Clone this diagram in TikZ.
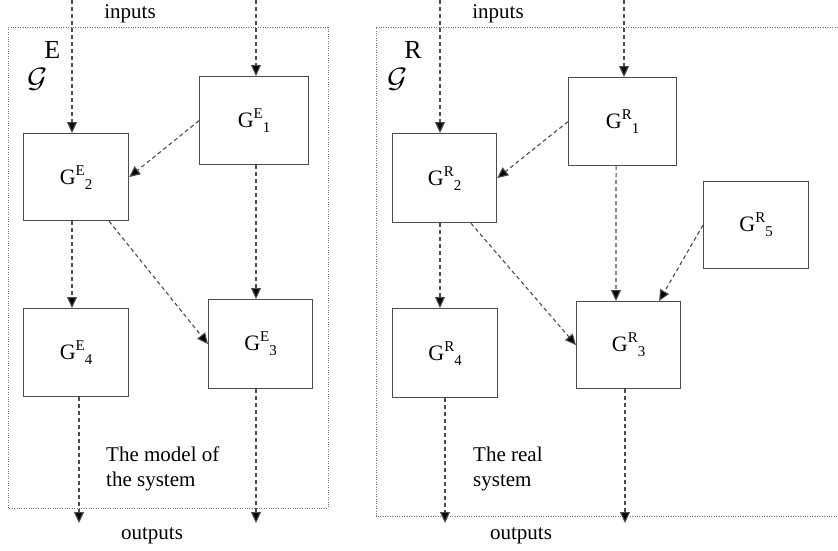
\documentclass[tikz,border=0pt]{standalone}
\usepackage{fontspec}
\usepackage{graphicx}
\setmainfont{Liberation Serif}
\usetikzlibrary{arrows.meta,calc}

% block label: G with a raised system letter and a lowered index
\newcommand\glab[2]{G\raisebox{9pt}{\fontsize{15}{15}\selectfont #1}\raisebox{-5pt}{\fontsize{15}{15}\selectfont #2}}
% calligraphic system symbol with its superscript letter
\newcommand\sysname[1]{\scalebox{3.1}[2.8]{$\mathcal{G}$}\kern-3pt\raisebox{29pt}{\fontsize{26}{26}\selectfont #1}}

\tikzset{
  blk/.style={draw=black!70, line width=1.2pt, inner sep=0pt, anchor=north west,
              font=\fontsize{22}{24}\selectfont},
  flow/.style={draw=black!70, line width=1.1pt, dash pattern=on 4pt off 3pt,
               -{Triangle[length=11pt,width=10pt,fill=black]}},
  frame/.style={draw=black!55, line width=1pt, dash pattern=on 1pt off 1.4pt},
  lbl/.style={inner sep=0pt, font=\fontsize{21}{25}\selectfont},
  note/.style={inner sep=0pt, anchor=north west, align=left, font=\fontsize{21}{25}\selectfont}
}

\begin{document}
\begin{tikzpicture}[x=1pt,y=-1pt]
\useasboundingbox (0,0) rectangle (838,550);

% ---------- model of the system ----------
\draw[frame] (8,27) rectangle (328,508);
\node[inner sep=0pt, anchor=base west] (symE) at (27,87) {\sysname{E}};
\node[lbl] (inE) at (130,14) {inputs};
\node[lbl] (outE) at (152,536) {outputs};
\node[note] (txtE) at (106,447) {The model of\\the system};

\node[blk, minimum width=109pt, minimum height=88pt] (e1) at (199,76) {\glab{E}{1}};
\node[blk, minimum width=105pt, minimum height=87pt] (e2) at (23,133) {\glab{E}{2}};
\node[blk, minimum width=104pt, minimum height=89pt] (e3) at (208,299) {\glab{E}{3}};
\node[blk, minimum width=105pt, minimum height=88pt] (e4) at (23,308) {\glab{E}{4}};

\coordinate (inE1) at (72,0);
\coordinate (inE2) at (256,0);
\coordinate (outE1) at (79,523);
\coordinate (outE2) at (256,523);

\draw[flow] (inE1) -- (inE1 |- e2.north);
\draw[flow] (inE2) -- (inE2 |- e1.north);
\draw[flow] (e1.west) -- (e2.east);
\draw[flow] (inE1 |- e2.south) -- (inE1 |- e4.north);
\draw[flow] ($(e2.south west)!0.81!(e2.south east)$) -- (e3.west);
\draw[flow] (inE2 |- e1.south) -- (inE2 |- e3.north);
\draw[flow] (outE1 |- e4.south) -- (outE1);
\draw[flow] (outE2 |- e3.south) -- (outE2);

% ---------- the real system ----------
\draw[frame] (838,27) -- (376,27) -- (376,516) -- (838,516);
\node[inner sep=0pt, anchor=base west] (symR) at (387,87) {\sysname{R}};
\node[lbl] (inR) at (498,14) {inputs};
\node[lbl] (outR) at (521,536) {outputs};
\node[note] (txtR) at (473,447) {The real\\system};

\node[blk, minimum width=108pt, minimum height=88pt] (r1) at (568,77) {\glab{R}{1}};
\node[blk, minimum width=104pt, minimum height=89pt] (r2) at (392,133) {\glab{R}{2}};
\node[blk, minimum width=104pt, minimum height=87pt] (r3) at (576,301) {\glab{R}{3}};
\node[blk, minimum width=105pt, minimum height=89pt] (r4) at (392,308) {\glab{R}{4}};
\node[blk, minimum width=105pt, minimum height=87pt] (r5) at (703,181) {\glab{R}{5}};

\coordinate (inR1) at (440,0);
\coordinate (inR2) at (624,0);
\coordinate (outR1) at (445,523);
\coordinate (outR2) at (625,523);

\draw[flow] (inR1) -- (inR1 |- r2.north);
\draw[flow] (inR2) -- (inR2 |- r1.north);
\draw[flow] (r1.west) -- (r2.east);
\draw[flow] (inR1 |- r2.south) -- (inR1 |- r4.north);
\draw[flow] ($(r2.south west)!0.75!(r2.south east)$) -- (r3.west);
\draw[flow] ($(r1.south west)!0.44!(r1.south east)$) -- ($(r3.north west)!0.38!(r3.north east)$);
\draw[flow] (r5.west) -- ($(r3.north west)!0.79!(r3.north east)$);
\draw[flow] (outR1 |- r4.south) -- (outR1);
\draw[flow] (outR2 |- r3.south) -- (outR2);
\end{tikzpicture}
\end{document}
